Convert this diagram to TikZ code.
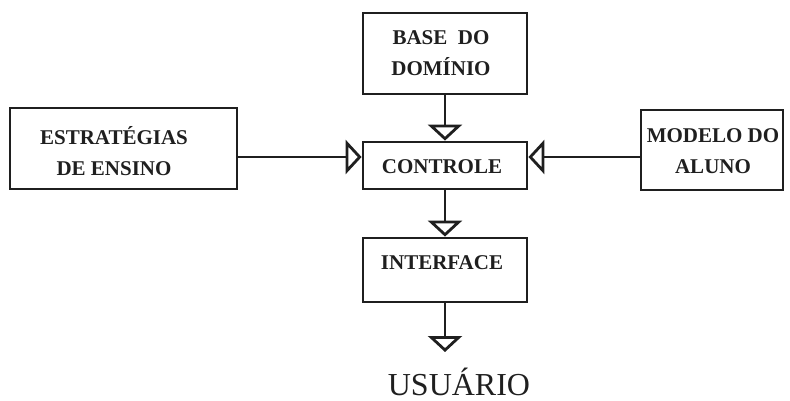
\documentclass[tikz,border=0pt]{standalone}
\usepackage{fontspec}
\setmainfont{Liberation Serif}
\usetikzlibrary{arrows.meta}
\begin{document}
\begin{tikzpicture}[x=1pt,y=-1pt,
  box/.style={draw=black!88,line width=2.8pt,inner sep=0pt},
  lbl/.style={font=\fontsize{21}{31}\selectfont\bfseries,align=center,inner sep=0pt,text=black!88},
  flow/.style={draw=black!88,line width=2.8pt,
    -{Triangle[open,length=16pt,width=34pt,line width=2.8pt]}}]
\useasboundingbox (0,0) rectangle (790,401);
% boxes (centres and sizes in pixel units)
\node[box,minimum width=164pt,minimum height=81pt] (base) at (445,53.5) {};
\node[box,minimum width=227pt,minimum height=81pt] (estr) at (123.5,148.5) {};
\node[box,minimum width=164pt,minimum height=47pt] (ctrl) at (445,165.5) {};
\node[box,minimum width=142pt,minimum height=80pt] (aluno) at (712,150) {};
\node[box,minimum width=164pt,minimum height=64pt] (intf) at (445,270) {};
% labels
\node[lbl] at (441,53) {BASE\ \ DO\\DOMÍNIO};
\node[lbl] at (114,151) {ESTRATÉGIAS\\DE ENSINO};
\node[lbl] at (713,151) {MODELO DO\\ALUNO};
\node[lbl] at (442,167) {CONTROLE};
\node[lbl] at (442,263) {INTERFACE};
\node[font=\fontsize{32}{38}\selectfont,inner sep=0pt,text=black!88,anchor=base] (user) at (459,395.5) {USUÁRIO};
\coordinate (out) at (445,352);
% connectors
\draw[flow] (base.south) -- (ctrl.north);
\draw[flow] (estr.east |- 0,157) -- (ctrl.west |- 0,157);
\draw[flow] (aluno.west |- 0,157) -- (ctrl.east |- 0,157);
\draw[flow] (ctrl.south) -- (intf.north);
\draw[flow] (intf.south) -- (out);
\end{tikzpicture}
\end{document}
